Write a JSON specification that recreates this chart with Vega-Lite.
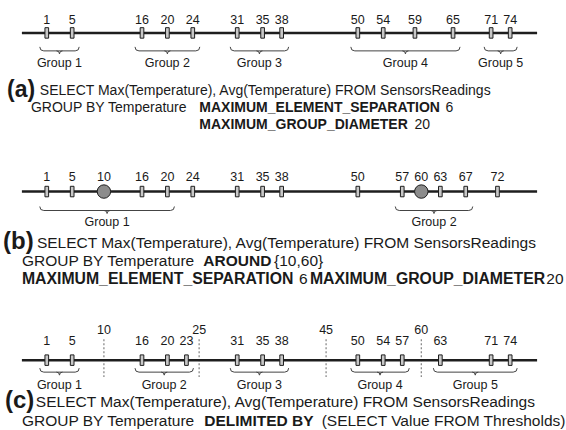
{
  "$schema": "https://vega.github.io/schema/vega-lite/v6.json",
  "width": 566,
  "height": 430,
  "padding": 0,
  "autosize": {"type": "fit", "contains": "padding"},
  "background": "#ffffff",
  "config": {
    "view": {"stroke": null},
    "axis": {"disable": true},
    "text": {"font": "Liberation Sans", "color": "#1a1a1a"}
  },
  "datasets": {
    "readings": [
      {"panel": "a", "v": 1, "kind": "reading", "group": "Group 1"},
      {"panel": "a", "v": 5, "kind": "reading", "group": "Group 1"},
      {"panel": "a", "v": 16, "kind": "reading", "group": "Group 2"},
      {"panel": "a", "v": 20, "kind": "reading", "group": "Group 2"},
      {"panel": "a", "v": 24, "kind": "reading", "group": "Group 2"},
      {"panel": "a", "v": 31, "kind": "reading", "group": "Group 3"},
      {"panel": "a", "v": 35, "kind": "reading", "group": "Group 3"},
      {"panel": "a", "v": 38, "kind": "reading", "group": "Group 3"},
      {"panel": "a", "v": 50, "kind": "reading", "group": "Group 4"},
      {"panel": "a", "v": 54, "kind": "reading", "group": "Group 4"},
      {"panel": "a", "v": 59, "kind": "reading", "group": "Group 4"},
      {"panel": "a", "v": 65, "kind": "reading", "group": "Group 4"},
      {"panel": "a", "v": 71, "kind": "reading", "group": "Group 5"},
      {"panel": "a", "v": 74, "kind": "reading", "group": "Group 5"},
      {"panel": "b", "v": 1, "kind": "reading", "group": "Group 1"},
      {"panel": "b", "v": 5, "kind": "reading", "group": "Group 1"},
      {"panel": "b", "v": 10, "kind": "center", "group": "Group 1"},
      {"panel": "b", "v": 16, "kind": "reading", "group": "Group 1"},
      {"panel": "b", "v": 20, "kind": "reading", "group": "Group 1"},
      {"panel": "b", "v": 24, "kind": "reading"},
      {"panel": "b", "v": 31, "kind": "reading"},
      {"panel": "b", "v": 35, "kind": "reading"},
      {"panel": "b", "v": 38, "kind": "reading"},
      {"panel": "b", "v": 50, "kind": "reading"},
      {"panel": "b", "v": 57, "kind": "reading", "group": "Group 2"},
      {"panel": "b", "v": 60, "kind": "center", "group": "Group 2"},
      {"panel": "b", "v": 63, "kind": "reading", "group": "Group 2"},
      {"panel": "b", "v": 67, "kind": "reading", "group": "Group 2"},
      {"panel": "b", "v": 72, "kind": "reading"},
      {"panel": "c", "v": 1, "kind": "reading", "group": "Group 1"},
      {"panel": "c", "v": 5, "kind": "reading", "group": "Group 1"},
      {"panel": "c", "v": 10, "kind": "threshold"},
      {"panel": "c", "v": 16, "kind": "reading", "group": "Group 2"},
      {"panel": "c", "v": 20, "kind": "reading", "group": "Group 2"},
      {"panel": "c", "v": 23, "kind": "reading", "group": "Group 2"},
      {"panel": "c", "v": 25, "kind": "threshold"},
      {"panel": "c", "v": 31, "kind": "reading", "group": "Group 3"},
      {"panel": "c", "v": 35, "kind": "reading", "group": "Group 3"},
      {"panel": "c", "v": 38, "kind": "reading", "group": "Group 3"},
      {"panel": "c", "v": 45, "kind": "threshold"},
      {"panel": "c", "v": 50, "kind": "reading", "group": "Group 4"},
      {"panel": "c", "v": 54, "kind": "reading", "group": "Group 4"},
      {"panel": "c", "v": 57, "kind": "reading", "group": "Group 4"},
      {"panel": "c", "v": 60, "kind": "threshold"},
      {"panel": "c", "v": 63, "kind": "reading", "group": "Group 5"},
      {"panel": "c", "v": 71, "kind": "reading", "group": "Group 5"},
      {"panel": "c", "v": 74, "kind": "reading", "group": "Group 5"}
    ]
  },
  "data": {"name": "readings"},
  "layer": [
    {
      "data": {"values": [{"k": 1}]},
      "layer": [
        {"mark": {"type": "rule", "strokeWidth": 2.5, "color": "#1e1e1e"},
         "encoding": {
           "x": {"datum": -2.92, "type": "quantitative", "scale": {"domain": [-6.37, 82.48], "nice": false, "zero": false}},
           "x2": {"datum": 78.24},
           "y": {"datum": 33, "type": "quantitative", "scale": {"domain": [0, 430], "reverse": true, "nice": false, "zero": false}}}}
      ]
    },
    {
      "transform": [{"filter": "datum.panel === 'c' && datum.kind === 'threshold'"}],
      "layer": [
        {"mark": {"type": "rule", "color": "#808080", "strokeWidth": 1.2, "strokeDash": [2, 2]},
         "encoding": {"x": {"field": "v", "type": "quantitative"}, "y": {"datum": 340}, "y2": {"datum": 378}}},
        {"mark": {"type": "text", "fontSize": 12.5, "baseline": "middle"},
         "encoding": {"x": {"field": "v", "type": "quantitative"}, "y": {"datum": 331}, "text": {"field": "v", "type": "quantitative"}}}
      ]
    },
    {
      "data": {"values": [{"k": 1}]},
      "layer": [
        {"mark": {"type": "rule", "strokeWidth": 2.5, "color": "#1e1e1e"},
         "encoding": {"x": {"datum": -2.92}, "x2": {"datum": 78.24}, "y": {"datum": 192}}},
        {"mark": {"type": "rule", "strokeWidth": 2.5, "color": "#1e1e1e"},
         "encoding": {"x": {"datum": -2.92}, "x2": {"datum": 78.24}, "y": {"datum": 361}}}
      ]
    },
    {
      "transform": [{"filter": "datum.panel === 'a'"}],
      "layer": [
        {"transform": [{"filter": "datum.kind === 'reading'"}],
         "mark": {"type": "point", "shape": "M -0.35 -1 L 0.35 -1 L 0.35 1 L -0.35 1 Z", "size": 110, "filled": true, "fill": "#c8c8c8", "stroke": "#1e1e1e", "strokeWidth": 1, "opacity": 1},
         "encoding": {"x": {"field": "v", "type": "quantitative"}, "y": {"datum": 33}}},
        {"transform": [{"filter": "datum.kind !== 'threshold'"}],
         "mark": {"type": "text", "fontSize": 12.5, "baseline": "middle"},
         "encoding": {"x": {"field": "v", "type": "quantitative"}, "y": {"datum": 20}, "text": {"field": "v", "type": "quantitative"}}},
        {"transform": [{"filter": "datum.group != null"}, {"aggregate": [{"op": "min", "field": "v", "as": "lo"}, {"op": "max", "field": "v", "as": "hi"}], "groupby": ["group"]}],
         "layer": [
           {"mark": {"type": "rule", "color": "#444444", "strokeWidth": 1, "xOffset": -3, "x2Offset": 3},
            "encoding": {"x": {"field": "lo", "type": "quantitative"}, "x2": {"field": "hi"}, "y": {"datum": 51}}},
           {"mark": {"type": "point", "shape": "M 0 -1 Q 0 0 1 0", "size": 64, "filled": false, "color": "#444444", "strokeWidth": 1, "opacity": 1, "xOffset": -7},
            "encoding": {"x": {"field": "lo", "type": "quantitative"}, "y": {"datum": 51}}},
           {"mark": {"type": "point", "shape": "M 0 -1 Q 0 0 -1 0", "size": 64, "filled": false, "color": "#444444", "strokeWidth": 1, "opacity": 1, "xOffset": 7},
            "encoding": {"x": {"field": "hi", "type": "quantitative"}, "y": {"datum": 51}}},
           {"transform": [{"fold": ["lo", "hi"]}, {"aggregate": [{"op": "mean", "field": "value", "as": "mid"}], "groupby": ["group"]}],
            "layer": [
              {"mark": {"type": "point", "shape": "M -1 0 Q 0 0 0 1 Q 0 0 1 0", "size": 36, "filled": false, "color": "#444444", "strokeWidth": 1, "opacity": 1},
               "encoding": {"x": {"field": "mid", "type": "quantitative"}, "y": {"datum": 51}}},
              {"mark": {"type": "text", "fontSize": 12.5, "baseline": "middle"},
               "encoding": {"x": {"field": "mid", "type": "quantitative"}, "y": {"datum": 63}, "text": {"field": "group"}}}
            ]}
         ]}
      ]
    },
    {
      "transform": [{"filter": "datum.panel === 'b'"}],
      "layer": [
        {"transform": [{"filter": "datum.kind === 'reading'"}],
         "mark": {"type": "point", "shape": "M -0.35 -1 L 0.35 -1 L 0.35 1 L -0.35 1 Z", "size": 110, "filled": true, "fill": "#c8c8c8", "stroke": "#1e1e1e", "strokeWidth": 1, "opacity": 1},
         "encoding": {"x": {"field": "v", "type": "quantitative"}, "y": {"datum": 192}}},
        {"transform": [{"filter": "datum.kind === 'center'"}],
         "mark": {"type": "point", "shape": "circle", "size": 180, "filled": true, "fill": "#8c8c8c", "stroke": "#1e1e1e", "strokeWidth": 1, "opacity": 1},
         "encoding": {"x": {"field": "v", "type": "quantitative"}, "y": {"datum": 192}}},
        {"transform": [{"filter": "datum.kind !== 'threshold'"}],
         "mark": {"type": "text", "fontSize": 12.5, "baseline": "middle"},
         "encoding": {"x": {"field": "v", "type": "quantitative"}, "y": {"datum": 177}, "text": {"field": "v", "type": "quantitative"}}},
        {"transform": [{"filter": "datum.group != null"}, {"aggregate": [{"op": "min", "field": "v", "as": "lo"}, {"op": "max", "field": "v", "as": "hi"}], "groupby": ["group"]}],
         "layer": [
           {"mark": {"type": "rule", "color": "#444444", "strokeWidth": 1, "xOffset": -3, "x2Offset": 3},
            "encoding": {"x": {"field": "lo", "type": "quantitative"}, "x2": {"field": "hi"}, "y": {"datum": 211}}},
           {"mark": {"type": "point", "shape": "M 0 -1 Q 0 0 1 0", "size": 64, "filled": false, "color": "#444444", "strokeWidth": 1, "opacity": 1, "xOffset": -7},
            "encoding": {"x": {"field": "lo", "type": "quantitative"}, "y": {"datum": 211}}},
           {"mark": {"type": "point", "shape": "M 0 -1 Q 0 0 -1 0", "size": 64, "filled": false, "color": "#444444", "strokeWidth": 1, "opacity": 1, "xOffset": 7},
            "encoding": {"x": {"field": "hi", "type": "quantitative"}, "y": {"datum": 211}}},
           {"transform": [{"fold": ["lo", "hi"]}, {"aggregate": [{"op": "mean", "field": "value", "as": "mid"}], "groupby": ["group"]}],
            "layer": [
              {"mark": {"type": "point", "shape": "M -1 0 Q 0 0 0 1 Q 0 0 1 0", "size": 36, "filled": false, "color": "#444444", "strokeWidth": 1, "opacity": 1},
               "encoding": {"x": {"field": "mid", "type": "quantitative"}, "y": {"datum": 211}}},
              {"mark": {"type": "text", "fontSize": 12.5, "baseline": "middle"},
               "encoding": {"x": {"field": "mid", "type": "quantitative"}, "y": {"datum": 223}, "text": {"field": "group"}}}
            ]}
         ]}
      ]
    },
    {
      "transform": [{"filter": "datum.panel === 'c'"}],
      "layer": [
        {"transform": [{"filter": "datum.kind === 'reading'"}],
         "mark": {"type": "point", "shape": "M -0.35 -1 L 0.35 -1 L 0.35 1 L -0.35 1 Z", "size": 110, "filled": true, "fill": "#c8c8c8", "stroke": "#1e1e1e", "strokeWidth": 1, "opacity": 1},
         "encoding": {"x": {"field": "v", "type": "quantitative"}, "y": {"datum": 361}}},
        {"transform": [{"filter": "datum.kind !== 'threshold'"}],
         "mark": {"type": "text", "fontSize": 12.5, "baseline": "middle"},
         "encoding": {"x": {"field": "v", "type": "quantitative"}, "y": {"datum": 342}, "text": {"field": "v", "type": "quantitative"}}},
        {"transform": [{"filter": "datum.group != null"}, {"aggregate": [{"op": "min", "field": "v", "as": "lo"}, {"op": "max", "field": "v", "as": "hi"}], "groupby": ["group"]}],
         "layer": [
           {"mark": {"type": "rule", "color": "#444444", "strokeWidth": 1, "xOffset": -3, "x2Offset": 3},
            "encoding": {"x": {"field": "lo", "type": "quantitative"}, "x2": {"field": "hi"}, "y": {"datum": 373}}},
           {"mark": {"type": "point", "shape": "M 0 -1 Q 0 0 1 0", "size": 64, "filled": false, "color": "#444444", "strokeWidth": 1, "opacity": 1, "xOffset": -7},
            "encoding": {"x": {"field": "lo", "type": "quantitative"}, "y": {"datum": 373}}},
           {"mark": {"type": "point", "shape": "M 0 -1 Q 0 0 -1 0", "size": 64, "filled": false, "color": "#444444", "strokeWidth": 1, "opacity": 1, "xOffset": 7},
            "encoding": {"x": {"field": "hi", "type": "quantitative"}, "y": {"datum": 373}}},
           {"transform": [{"fold": ["lo", "hi"]}, {"aggregate": [{"op": "mean", "field": "value", "as": "mid"}], "groupby": ["group"]}],
            "layer": [
              {"mark": {"type": "point", "shape": "M -1 0 Q 0 0 0 1 Q 0 0 1 0", "size": 36, "filled": false, "color": "#444444", "strokeWidth": 1, "opacity": 1},
               "encoding": {"x": {"field": "mid", "type": "quantitative"}, "y": {"datum": 373}}},
              {"mark": {"type": "text", "fontSize": 12.5, "baseline": "middle"},
               "encoding": {"x": {"field": "mid", "type": "quantitative"}, "y": {"datum": 386}, "text": {"field": "group"}}}
            ]}
         ]}
      ]
    },
    {
      "data": {"values": [{"k": 1}]},
      "layer": [
        {"mark": {"type": "text", "align": "left", "baseline": "middle", "fontSize": 23, "fontWeight": "bold", "text": "(a)"},
         "encoding": {"x": {"datum": -5.27}, "y": {"datum": 90}}},
        {"mark": {"type": "text", "align": "left", "baseline": "middle", "fontSize": 14, "text": "SELECT Max(Temperature), Avg(Temperature) FROM SensorsReadings"},
         "encoding": {"x": {"datum": -0.09}, "y": {"datum": 91}}},
        {"mark": {"type": "text", "align": "left", "baseline": "middle", "fontSize": 14, "text": "GROUP BY Temperature"},
         "encoding": {"x": {"datum": -1.5}, "y": {"datum": 108}}},
        {"mark": {"type": "text", "align": "left", "baseline": "middle", "fontSize": 14, "fontWeight": "bold", "text": "MAXIMUM_ELEMENT_SEPARATION"},
         "encoding": {"x": {"datum": 25.03}, "y": {"datum": 108}}},
        {"mark": {"type": "text", "align": "left", "baseline": "middle", "fontSize": 14, "text": "6"},
         "encoding": {"x": {"datum": 63.8}, "y": {"datum": 108}}},
        {"mark": {"type": "text", "align": "left", "baseline": "middle", "fontSize": 14, "fontWeight": "bold", "text": "MAXIMUM_GROUP_DIAMETER"},
         "encoding": {"x": {"datum": 25.03}, "y": {"datum": 125}}},
        {"mark": {"type": "text", "align": "left", "baseline": "middle", "fontSize": 14, "text": "20"},
         "encoding": {"x": {"datum": 58.94}, "y": {"datum": 125}}},

        {"mark": {"type": "text", "align": "left", "baseline": "middle", "fontSize": 24, "fontWeight": "bold", "text": "(b)"},
         "encoding": {"x": {"datum": -5.9}, "y": {"datum": 243}}},
        {"mark": {"type": "text", "align": "left", "baseline": "middle", "fontSize": 15.5, "text": "SELECT Max(Temperature), Avg(Temperature) FROM SensorsReadings"},
         "encoding": {"x": {"datum": -0.56}, "y": {"datum": 244}}},
        {"mark": {"type": "text", "align": "left", "baseline": "middle", "fontSize": 15.5, "text": "GROUP BY Temperature"},
         "encoding": {"x": {"datum": -2.92}, "y": {"datum": 262}}},
        {"mark": {"type": "text", "align": "left", "baseline": "middle", "fontSize": 15.5, "fontWeight": "bold", "text": "AROUND"},
         "encoding": {"x": {"datum": 25.66}, "y": {"datum": 262}}},
        {"mark": {"type": "text", "align": "left", "baseline": "middle", "fontSize": 15.5, "text": "{10,60}"},
         "encoding": {"x": {"datum": 36.8}, "y": {"datum": 262}}},
        {"mark": {"type": "text", "align": "left", "baseline": "middle", "fontSize": 15.8, "fontWeight": "bold", "text": "MAXIMUM_ELEMENT_SEPARATION"},
         "encoding": {"x": {"datum": -2.92}, "y": {"datum": 280}}},
        {"mark": {"type": "text", "align": "left", "baseline": "middle", "fontSize": 15.5, "text": "6"},
         "encoding": {"x": {"datum": 40.73}, "y": {"datum": 280}}},
        {"mark": {"type": "text", "align": "left", "baseline": "middle", "fontSize": 15.8, "fontWeight": "bold", "text": "MAXIMUM_GROUP_DIAMETER"},
         "encoding": {"x": {"datum": 42.45}, "y": {"datum": 280}}},
        {"mark": {"type": "text", "align": "left", "baseline": "middle", "fontSize": 15.5, "text": "20"},
         "encoding": {"x": {"datum": 79.7}, "y": {"datum": 280}}},

        {"mark": {"type": "text", "align": "left", "baseline": "middle", "fontSize": 24, "fontWeight": "bold", "text": "(c)"},
         "encoding": {"x": {"datum": -5.59}, "y": {"datum": 402}}},
        {"mark": {"type": "text", "align": "left", "baseline": "middle", "fontSize": 15.5, "text": "SELECT Max(Temperature), Avg(Temperature) FROM SensorsReadings"},
         "encoding": {"x": {"datum": -0.72}, "y": {"datum": 403}}},
        {"mark": {"type": "text", "align": "left", "baseline": "middle", "fontSize": 15.5, "text": "GROUP BY Temperature"},
         "encoding": {"x": {"datum": -2.92}, "y": {"datum": 422}}},
        {"mark": {"type": "text", "align": "left", "baseline": "middle", "fontSize": 15.5, "fontWeight": "bold", "text": "DELIMITED BY"},
         "encoding": {"x": {"datum": 25.81}, "y": {"datum": 422}}},
        {"mark": {"type": "text", "align": "left", "baseline": "middle", "fontSize": 15.5, "text": "(SELECT Value FROM Thresholds)"},
         "encoding": {"x": {"datum": 44.3}, "y": {"datum": 422}}}
      ]
    }
  ]
}
